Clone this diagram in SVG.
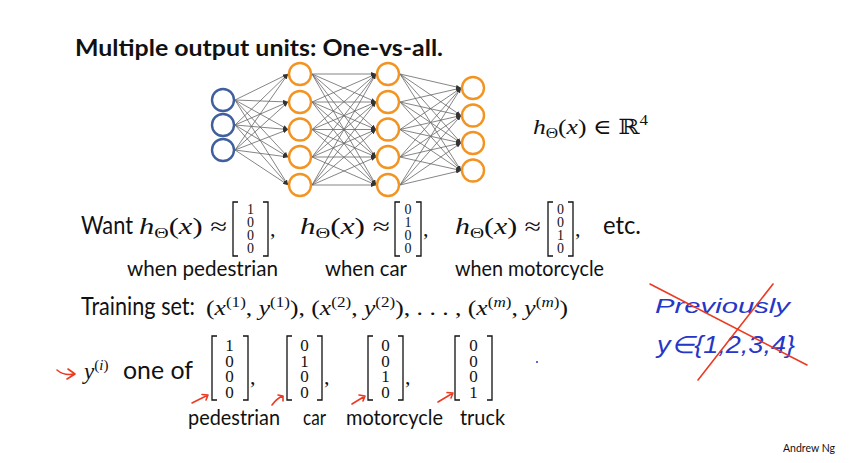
<svg xmlns="http://www.w3.org/2000/svg" width="864" height="463" viewBox="0 0 864 463">
<style>
.t{font-family:Lato,"Liberation Sans",sans-serif;fill:#111}
.m{font-family:"Liberation Serif","DejaVu Serif",serif;fill:#111}
.i{font-style:italic}
.br{fill:none;stroke:#111;stroke-width:1.3}
.inp{fill:#fff;stroke:#3f5f9e;stroke-width:2.4}
.hid{fill:#fff;stroke:#f39422;stroke-width:2.4}
.c line{stroke:#666;stroke-width:0.8;marker-end:url(#ah)}
.hand{font-family:"Liberation Sans",sans-serif;font-style:italic;fill:#2636c8}
.red{fill:none;stroke:#ec3a22;stroke-width:1.6;stroke-linecap:round;stroke-linejoin:round}
</style>
<defs>
<marker id="ah" viewBox="0 0 5 4" refX="5" refY="2" markerWidth="5" markerHeight="4" markerUnits="userSpaceOnUse" orient="auto">
<path d="M0,0 L5,2 L0,4 z" fill="#333"/>
</marker>
</defs>
<rect width="864" height="463" fill="#fff"/>

<text id="title" class="t" x="75" y="56" font-size="23" font-weight="bold" textLength="368" lengthAdjust="spacingAndGlyphs">Multiple output units: One-vs-all.</text>

<g id="connectors" class="c">
<line x1="235" y1="100" x2="288" y2="74"/><line x1="235" y1="100" x2="288" y2="102"/><line x1="235" y1="100" x2="288" y2="129.5"/><line x1="235" y1="100" x2="288" y2="157"/><line x1="235" y1="100" x2="288" y2="185"/>
<line x1="235" y1="125" x2="288" y2="74"/><line x1="235" y1="125" x2="288" y2="102"/><line x1="235" y1="125" x2="288" y2="129.5"/><line x1="235" y1="125" x2="288" y2="157"/><line x1="235" y1="125" x2="288" y2="185"/>
<line x1="235" y1="150" x2="288" y2="74"/><line x1="235" y1="150" x2="288" y2="102"/><line x1="235" y1="150" x2="288" y2="129.5"/><line x1="235" y1="150" x2="288" y2="157"/><line x1="235" y1="150" x2="288" y2="185"/>
<line x1="312" y1="74" x2="376" y2="74"/><line x1="312" y1="74" x2="376" y2="102"/><line x1="312" y1="74" x2="376" y2="129.5"/><line x1="312" y1="74" x2="376" y2="157"/><line x1="312" y1="74" x2="376" y2="185"/>
<line x1="312" y1="102" x2="376" y2="74"/><line x1="312" y1="102" x2="376" y2="102"/><line x1="312" y1="102" x2="376" y2="129.5"/><line x1="312" y1="102" x2="376" y2="157"/><line x1="312" y1="102" x2="376" y2="185"/>
<line x1="312" y1="129.5" x2="376" y2="74"/><line x1="312" y1="129.5" x2="376" y2="102"/><line x1="312" y1="129.5" x2="376" y2="129.5"/><line x1="312" y1="129.5" x2="376" y2="157"/><line x1="312" y1="129.5" x2="376" y2="185"/>
<line x1="312" y1="157" x2="376" y2="74"/><line x1="312" y1="157" x2="376" y2="102"/><line x1="312" y1="157" x2="376" y2="129.5"/><line x1="312" y1="157" x2="376" y2="157"/><line x1="312" y1="157" x2="376" y2="185"/>
<line x1="312" y1="185" x2="376" y2="74"/><line x1="312" y1="185" x2="376" y2="102"/><line x1="312" y1="185" x2="376" y2="129.5"/><line x1="312" y1="185" x2="376" y2="157"/><line x1="312" y1="185" x2="376" y2="185"/>
<line x1="400" y1="74" x2="461" y2="88"/><line x1="400" y1="74" x2="461" y2="115.5"/><line x1="400" y1="74" x2="461" y2="143"/><line x1="400" y1="74" x2="461" y2="170.5"/>
<line x1="400" y1="102" x2="461" y2="88"/><line x1="400" y1="102" x2="461" y2="115.5"/><line x1="400" y1="102" x2="461" y2="143"/><line x1="400" y1="102" x2="461" y2="170.5"/>
<line x1="400" y1="129.5" x2="461" y2="88"/><line x1="400" y1="129.5" x2="461" y2="115.5"/><line x1="400" y1="129.5" x2="461" y2="143"/><line x1="400" y1="129.5" x2="461" y2="170.5"/>
<line x1="400" y1="157" x2="461" y2="88"/><line x1="400" y1="157" x2="461" y2="115.5"/><line x1="400" y1="157" x2="461" y2="143"/><line x1="400" y1="157" x2="461" y2="170.5"/>
<line x1="400" y1="185" x2="461" y2="88"/><line x1="400" y1="185" x2="461" y2="115.5"/><line x1="400" y1="185" x2="461" y2="143"/><line x1="400" y1="185" x2="461" y2="170.5"/>
</g>

<g id="in1"><circle class="inp" cx="223" cy="100" r="11"/></g>
<g id="in2"><circle class="inp" cx="223" cy="125" r="11"/></g>
<g id="in3"><circle class="inp" cx="223" cy="150" r="11"/></g>
<g id="h1a"><circle class="hid" cx="300" cy="74" r="11"/></g>
<g id="h1b"><circle class="hid" cx="300" cy="102" r="11"/></g>
<g id="h1c"><circle class="hid" cx="300" cy="129.5" r="11"/></g>
<g id="h1d"><circle class="hid" cx="300" cy="157" r="11"/></g>
<g id="h1e"><circle class="hid" cx="300" cy="185" r="11"/></g>
<g id="h2a"><circle class="hid" cx="388" cy="74" r="11"/></g>
<g id="h2b"><circle class="hid" cx="388" cy="102" r="11"/></g>
<g id="h2c"><circle class="hid" cx="388" cy="129.5" r="11"/></g>
<g id="h2d"><circle class="hid" cx="388" cy="157" r="11"/></g>
<g id="h2e"><circle class="hid" cx="388" cy="185" r="11"/></g>
<g id="out1"><circle class="hid" cx="473" cy="88" r="11"/></g>
<g id="out2"><circle class="hid" cx="473" cy="115.5" r="11"/></g>
<g id="out3"><circle class="hid" cx="473" cy="143" r="11"/></g>
<g id="out4"><circle class="hid" cx="473" cy="170.5" r="11"/></g>

<text id="hR4" class="m" x="533" y="134" font-size="21" textLength="115" lengthAdjust="spacingAndGlyphs"><tspan class="i">h</tspan><tspan font-size="14" dy="4">Θ</tspan><tspan dy="-4">(</tspan><tspan class="i">x</tspan>) ∈ ℝ<tspan font-size="14" dy="-9">4</tspan></text>

<g id="want">
<text class="t" x="81" y="234" font-size="25" textLength="52" lengthAdjust="spacingAndGlyphs">Want</text>
<text class="m" x="139" y="234" font-size="23" textLength="88" lengthAdjust="spacingAndGlyphs"><tspan class="i">h</tspan><tspan font-size="15" dy="4">Θ</tspan><tspan dy="-4">(</tspan><tspan class="i">x</tspan>) ≈</text>
<path class="br" d="M238,202 H233 V256 H238 M263,202 H268 V256 H263"/>
<g class="m" font-size="14" text-anchor="middle">
<text x="250.5" y="214">1</text><text x="250.5" y="227">0</text><text x="250.5" y="240">0</text><text x="250.5" y="253">0</text>
</g>
<text class="m" x="270" y="236" font-size="22">,</text>
<text class="m" x="300" y="234" font-size="23" textLength="90" lengthAdjust="spacingAndGlyphs"><tspan class="i">h</tspan><tspan font-size="15" dy="4">Θ</tspan><tspan dy="-4">(</tspan><tspan class="i">x</tspan>) ≈</text>
<path class="br" d="M400,202 H395 V256 H400 M416,202 H421 V256 H416"/>
<g class="m" font-size="14" text-anchor="middle">
<text x="408" y="214">0</text><text x="408" y="227">1</text><text x="408" y="240">0</text><text x="408" y="253">0</text>
</g>
<text class="m" x="423" y="236" font-size="22">,</text>
<text class="m" x="455" y="234" font-size="23" textLength="86" lengthAdjust="spacingAndGlyphs"><tspan class="i">h</tspan><tspan font-size="15" dy="4">Θ</tspan><tspan dy="-4">(</tspan><tspan class="i">x</tspan>) ≈</text>
<path class="br" d="M553,202 H548 V256 H553 M568,202 H573 V256 H568"/>
<g class="m" font-size="14" text-anchor="middle">
<text x="560.5" y="214">0</text><text x="560.5" y="227">0</text><text x="560.5" y="240">1</text><text x="560.5" y="253">0</text>
</g>
<text class="m" x="575" y="236" font-size="22">,</text>
<text class="t" x="603" y="234" font-size="25" textLength="38" lengthAdjust="spacingAndGlyphs">etc.</text>
</g>
<g id="whenlabels">
<text class="t" x="127" y="276" font-size="21" textLength="151" lengthAdjust="spacingAndGlyphs">when pedestrian</text>
<text class="t" x="325" y="276" font-size="21" textLength="82" lengthAdjust="spacingAndGlyphs">when car</text>
<text class="t" x="455" y="276" font-size="21" textLength="149" lengthAdjust="spacingAndGlyphs">when motorcycle</text>
</g>

<g id="training">
<text class="t" x="81" y="315" font-size="25" textLength="114" lengthAdjust="spacingAndGlyphs">Training set:</text>
<text class="m" x="206" y="315" font-size="21" textLength="362" lengthAdjust="spacingAndGlyphs">(<tspan class="i">x</tspan><tspan font-size="14" dy="-8">(1)</tspan><tspan dy="8">, </tspan><tspan class="i">y</tspan><tspan font-size="14" dy="-8">(1)</tspan><tspan dy="8">), (</tspan><tspan class="i">x</tspan><tspan font-size="14" dy="-8">(2)</tspan><tspan dy="8">, </tspan><tspan class="i">y</tspan><tspan font-size="14" dy="-8">(2)</tspan><tspan dy="8">), . . . , (</tspan><tspan class="i">x</tspan><tspan font-size="14" dy="-8">(<tspan class="i">m</tspan>)</tspan><tspan dy="8">, </tspan><tspan class="i">y</tspan><tspan font-size="14" dy="-8">(<tspan class="i">m</tspan>)</tspan><tspan dy="8">)</tspan></text>
</g>

<g id="oneof">
<path class="red" d="M57,370 Q64,376 74,374 M68,369 L75,374 L67,379"/>
<text class="m" x="84" y="379" font-size="23"><tspan class="i">y</tspan><tspan font-size="15" dy="-9">(<tspan class="i">i</tspan>)</tspan></text>
<text class="t" x="123" y="379" font-size="25" textLength="70" lengthAdjust="spacingAndGlyphs">one of</text>
<path class="br" d="M217,336 H212 V400 H217 M243,336 H248 V400 H243"/>
<g class="m" font-size="17" text-anchor="middle">
<text x="229.5" y="351">1</text><text x="229.5" y="366.5">0</text><text x="229.5" y="382">0</text><text x="229.5" y="397.5">0</text>
</g>
<text class="m" x="250" y="384" font-size="22">,</text>
<path class="br" d="M292,336 H287 V400 H292 M317,336 H322 V400 H317"/>
<g class="m" font-size="17" text-anchor="middle">
<text x="304.5" y="351">0</text><text x="304.5" y="366.5">1</text><text x="304.5" y="382">0</text><text x="304.5" y="397.5">0</text>
</g>
<text class="m" x="324" y="384" font-size="22">,</text>
<path class="br" d="M373,336 H368 V400 H373 M398,336 H403 V400 H398"/>
<g class="m" font-size="17" text-anchor="middle">
<text x="385.5" y="351">0</text><text x="385.5" y="366.5">0</text><text x="385.5" y="382">1</text><text x="385.5" y="397.5">0</text>
</g>
<text class="m" x="405" y="384" font-size="22">,</text>
<path class="br" d="M460,336 H455 V400 H460 M487,336 H492 V400 H487"/>
<g class="m" font-size="17" text-anchor="middle">
<text x="473.5" y="351">0</text><text x="473.5" y="366.5">0</text><text x="473.5" y="382">0</text><text x="473.5" y="397.5">1</text>
</g>
<circle cx="537" cy="362" r="1" fill="#2636c8"/>
<path class="red" d="M192,403 L208,395 M202,394.5 L208,395 L206,400"/>
<path class="red" d="M272,405 Q277,398 283,396 M278,395 L283,396 L283,401"/>
<path class="red" d="M352,404 L365,396 M359,395 L365,396 L363,401"/>
<path class="red" d="M438,402 L453,393 M447,392.5 L453,393 L451,398"/>
</g>
<g id="classlabels">
<text class="t" x="188" y="425" font-size="21" textLength="92" lengthAdjust="spacingAndGlyphs">pedestrian</text>
<text class="t" x="303" y="425" font-size="21" textLength="23" lengthAdjust="spacingAndGlyphs">car</text>
<text class="t" x="346" y="425" font-size="21" textLength="97" lengthAdjust="spacingAndGlyphs">motorcycle</text>
<text class="t" x="460" y="425" font-size="21" textLength="45" lengthAdjust="spacingAndGlyphs">truck</text>
</g>

<g id="previously">
<text class="hand" x="655" y="313" font-size="20" textLength="135" lengthAdjust="spacingAndGlyphs">Previously</text>
<text class="hand" x="657" y="353" font-size="24" textLength="138" lengthAdjust="spacingAndGlyphs">y∈{1,2,3,4}</text>
<path class="red" stroke-width="2" d="M650,284 L807,365 M773,284 L698,380"/>
</g>

<text id="author" class="t" x="783" y="452" font-size="11" fill="#333" textLength="52" lengthAdjust="spacingAndGlyphs">Andrew Ng</text>
</svg>
